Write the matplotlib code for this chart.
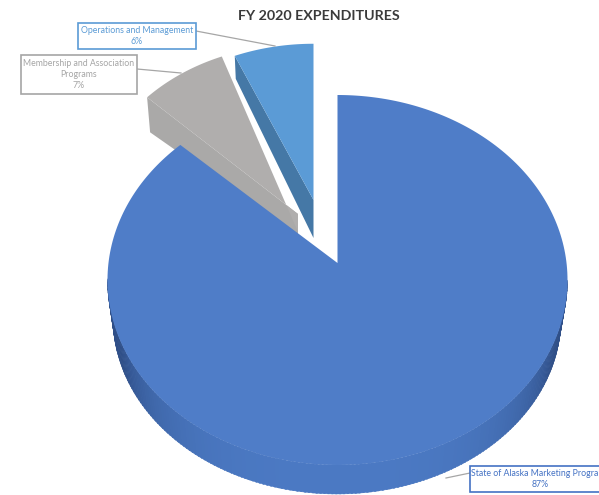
import numpy as np
import matplotlib
matplotlib.use("Agg")
import matplotlib.pyplot as plt
from matplotlib.patches import Polygon, Rectangle

title = "FY 2020 EXPENDITURES"
programs = ["State of Alaska Marketing Programs",
            "Membership and Association\nPrograms",
            "Operations and Management"]
shares = [87, 7, 6]

top_colors = ["#4F7DC8", "#B0AEAD", "#5B9BD6"]
side_colors = ["#2F4F88", "#AAA9A8", "#4578A6"]
label_colors = ["#4472C4", "#A5A5A5", "#5B9BD5"]

# Tilted-disc geometry, in pixels of the 599x495 canvas
CX, CY, RX, RY = 337.5, 280, 230, 185
TIP_Y = 263
# Lower rim is a slightly smaller ellipse because of the perspective
BX, BY, BRX, BRY = 337, 318, 224, 176
WARP = 3.7


def rim(theta_deg, scale=1.0):
    """Rim offset from the wedge tip; angles run clockwise from the top."""
    t = np.radians(theta_deg)
    return np.column_stack([RX * np.sin(t) * scale,
                            (CY - TIP_Y - RY * np.cos(t)) * scale])


def warped(theta_deg):
    """Perspective shift of rim angles on the main disc."""
    return theta_deg - WARP * np.sin(np.radians(2 * theta_deg))


def mix(c1, c2, k):
    a = np.array(matplotlib.colors.to_rgb(c1))
    b = np.array(matplotlib.colors.to_rgb(c2))
    return tuple(a + (b - a) * k)


fig = plt.figure(figsize=(5.99, 4.95), dpi=100)
ax = fig.add_axes([0, 0, 1, 1])
ax.set_xlim(0, 599)
ax.set_ylim(495, 0)
ax.axis("off")

edges = np.concatenate([[0], np.cumsum(shares)]) * 3.6

# Grey slice, drawn beneath the main slice
grey_tip, grey_scale = np.array([298.0, 196.0]), 0.90
arc = rim(np.linspace(edges[1], edges[2], 40), grey_scale) + grey_tip
ax.add_patch(Polygon(np.vstack([arc[0], arc[0] + [3, 35], [298, 236], [298, 214]]),
                     fc=side_colors[1], ec="none", zorder=1))
ax.add_patch(Polygon(np.vstack([arc, [298, 232], [298, 214]]),
                     fc=top_colors[1], ec="none", zorder=1.1))

# Light blue slice
blue_tip, blue_scale = np.array([313.5, 200.0]), 0.93
arc = rim(np.linspace(edges[2], edges[3], 40), blue_scale) + blue_tip
ax.add_patch(Polygon(np.vstack([arc[0], arc[0] + [1, 23], blue_tip + [0, 38], blue_tip]),
                     fc=side_colors[2], ec="none", zorder=1))
ax.add_patch(Polygon(np.vstack([blue_tip, arc]), fc=top_colors[2], ec="none", zorder=1.1))

# Main slice: shaded rim first, then the flat top
tip = np.array([CX, TIP_Y])
steps = np.linspace(90, 270, 181)
for a, b in zip(steps[:-1], steps[1:]):
    ends = np.array([a, b + 0.4])
    upper = rim(ends) + tip
    t = np.radians(ends)
    lower = np.column_stack([BX + BRX * np.sin(t), BY - BRY * np.cos(t)])
    k = np.clip(abs((a + b) / 2 - 180) / 72, 0, 1) ** 3
    col = mix("#4B79C3", side_colors[0], k)
    ax.add_patch(Polygon(np.vstack([upper, lower[::-1]]),
                         fc=col, ec=col, lw=0.3, zorder=2))
arc = rim(warped(np.linspace(edges[0], edges[1], 300))) + tip
ax.add_patch(Polygon(np.vstack([tip, arc]), fc=top_colors[0], ec="none", zorder=3))

# Title
ax.text(319, 15.5, title, ha="center", va="center", fontsize=10.3,
        fontweight="bold", family="Lato", color="#3A3A3A", zorder=6)

# Callouts: box (x0, y0, x1, y1), leader line, text centre
callouts = [
    ((470, 466, 606, 492), [(470, 473), (446, 478)], 540.5),
    ((21, 55, 137, 94), [(137, 69), (181, 73)], 79),
    ((78, 23, 196, 49), [(196, 31), (275, 46)], 137),
]
for name, share, color, (box, leader, text_x) in zip(programs, shares, label_colors, callouts):
    x0, y0, x1, y1 = box
    (lx0, ly0), (lx1, ly1) = leader
    ax.plot([lx0, lx1], [ly0, ly1], color="#A6A6A6", lw=0.9, zorder=4)
    ax.add_patch(Rectangle((x0, y0), x1 - x0, y1 - y0, fc="white", ec=color,
                           lw=1.2, zorder=5))
    ax.text(text_x, (y0 + y1) / 2, f"{name}\n{share}%", ha="center", va="center",
            fontsize=6.3, color=color, family="Lato", linespacing=1.3, zorder=6)

fig.savefig("out.png", dpi=100, facecolor="white")
